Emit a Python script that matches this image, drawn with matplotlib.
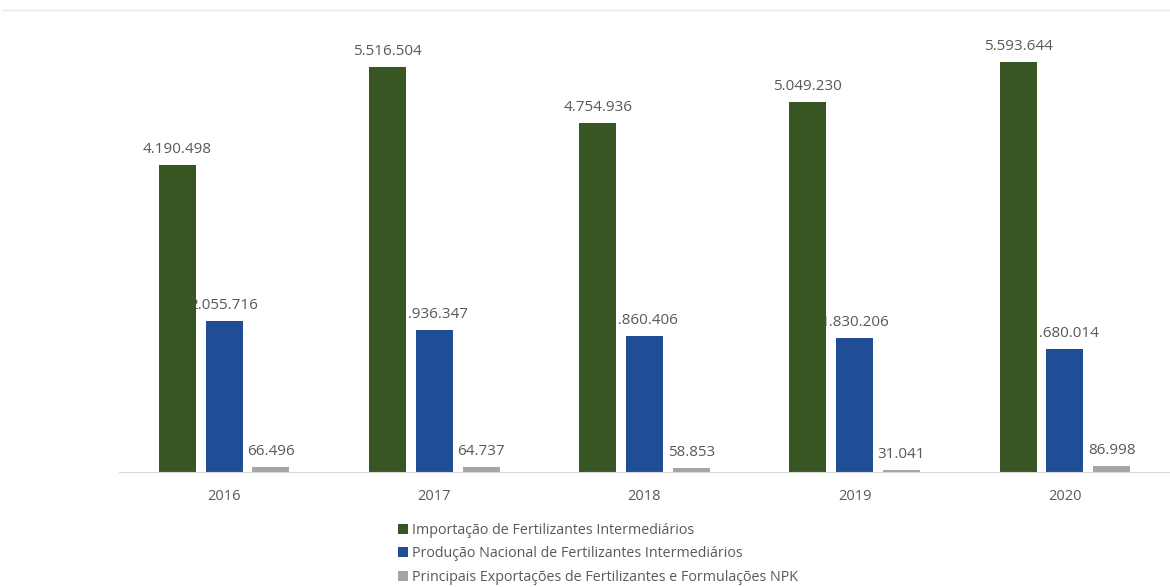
import numpy as np
import matplotlib.pyplot as plt
from matplotlib.lines import Line2D

plt.rcParams['font.family'] = ['Open Sans', 'DejaVu Sans']

anos = ["2016", "2017", "2018", "2019", "2020"]
importacao = [4190498, 5516504, 4754936, 5049230, 5593644]
producao = [2055716, 1936347, 1860406, 1830206, 1680014]
exportacoes = [66496, 64737, 58853, 31041, 86998]

nomes = ["Importação de Fertilizantes Intermediários",
         "Produção Nacional de Fertilizantes Intermediários",
         "Principais Exportações de Fertilizantes e Formulações NPK"]
cores = ["#375623", "#1F4E96", "#A5A5A5"]

def fmt(v):
    return f"{v:,}".replace(",", ".")

fig = plt.figure(figsize=(11.7, 5.87), dpi=100)
ax = fig.add_axes([119 / 1170, 115 / 587, 1 - 119 / 1170, 440 / 587])

x = np.arange(len(anos))
w = 0.176
passo = 0.223
series = [importacao, producao, exportacoes]
for i, (vals, cor, nome) in enumerate(zip(series, cores, nomes)):
    pos = x + (i - 1) * passo
    ax.bar(pos, vals, width=w, color=cor, label=nome, zorder=2 if i == 0 else 1.5)
    for p, v in zip(pos, vals):
        ax.text(p, v + 110000, fmt(v), ha="center", va="bottom",
                fontsize=11, color="#595959", zorder=1)

ax.set_xlim(-0.5, 4.5)
ax.set_ylim(0, 6.0e6)
ax.set_xticks(x)
ax.set_xticklabels(anos, fontsize=10.5, color="#595959")
ax.tick_params(axis="x", length=0, pad=12)
ax.set_yticks([])
for s in ["top", "right", "left"]:
    ax.spines[s].set_visible(False)
ax.spines["bottom"].set_color("#D9D9D9")

leg = fig.legend(loc="upper left", bbox_to_anchor=(392 / 1170, 1 - 517 / 587),
                 frameon=False, fontsize=10.3, handlelength=0.7, handleheight=0.7,
                 handletextpad=0.3, labelspacing=0.6, borderaxespad=0)
for t in leg.get_texts():
    t.set_color("#595959")

fig.add_artist(Line2D([3 / 1170, 1], [1 - 10 / 587, 1 - 10 / 587],
                      color="#E6E6E6", lw=1))

plt.savefig("out.png", dpi=100)
